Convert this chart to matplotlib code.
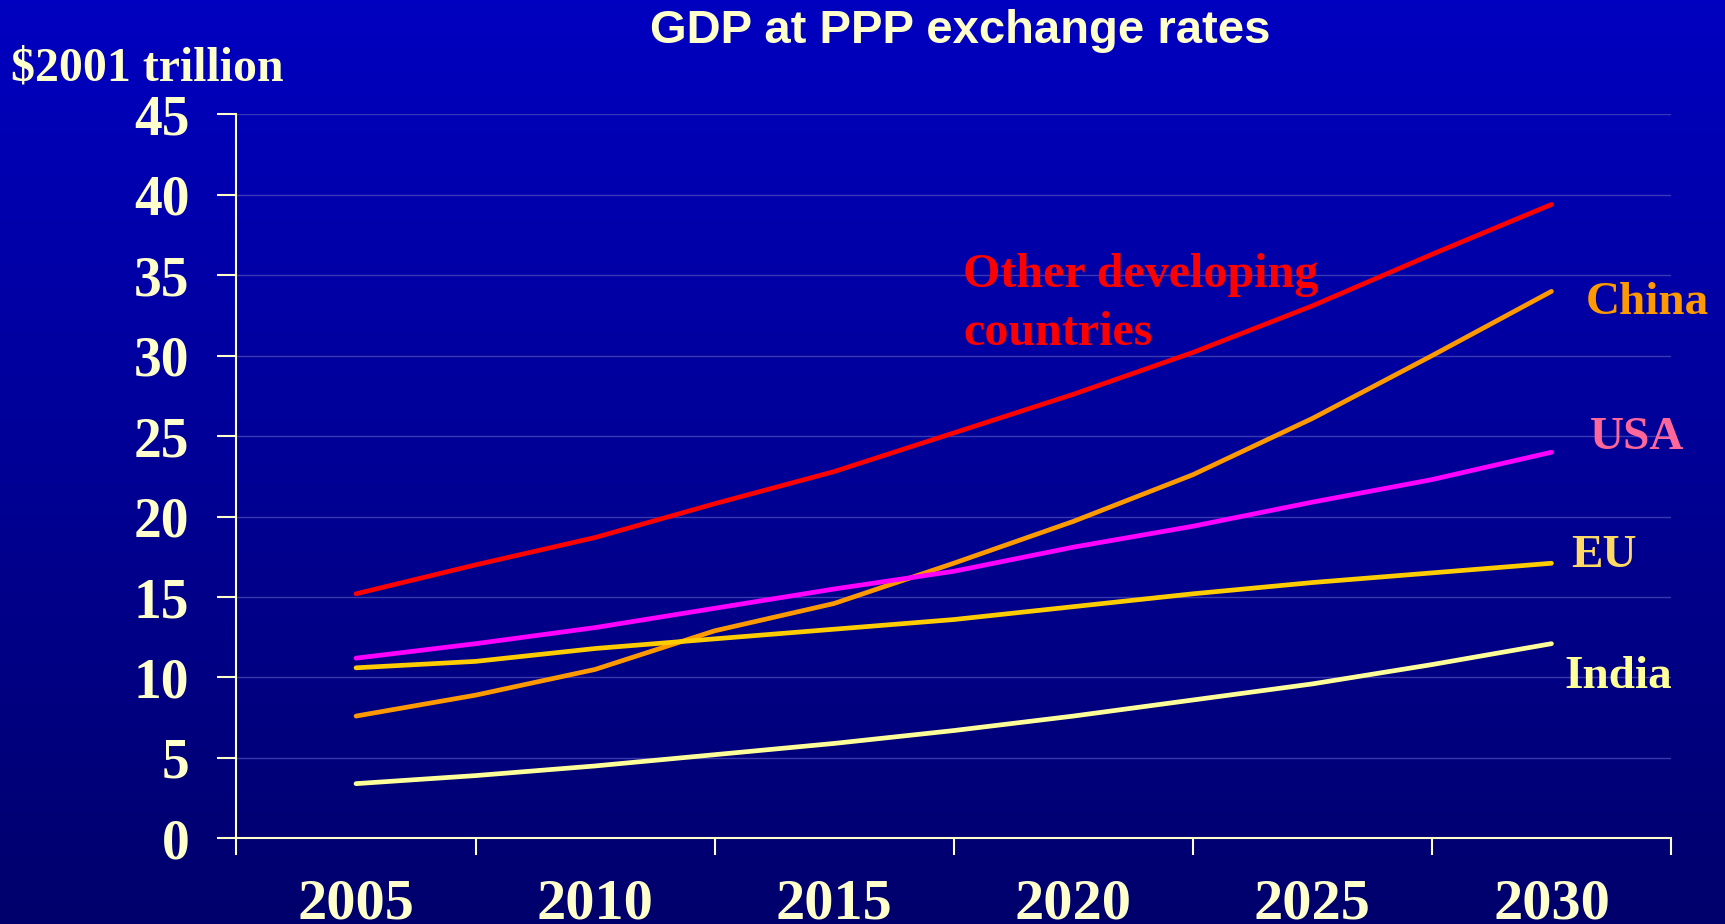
import numpy as np
import matplotlib.pyplot as plt
from matplotlib.ticker import FixedLocator, NullFormatter

# data ($2001 trillion, GDP at PPP)
years = [2005, 2007.5, 2010, 2012.5, 2015, 2017.5, 2020, 2022.5, 2025, 2027.5, 2030]
other_dev = [15.2, 17.0, 18.7, 20.8, 22.8, 25.2, 27.6, 30.2, 33.1, 36.3, 39.4]
china = [7.6, 8.9, 10.5, 12.9, 14.6, 17.1, 19.7, 22.6, 26.1, 30.0, 34.0]
usa = [11.2, 12.1, 13.1, 14.3, 15.5, 16.6, 18.1, 19.4, 20.9, 22.3, 24.0]
eu = [10.6, 11.0, 11.8, 12.4, 13.0, 13.6, 14.4, 15.2, 15.9, 16.5, 17.1]
india = [3.4, 3.9, 4.5, 5.2, 5.9, 6.7, 7.6, 8.6, 9.6, 10.8, 12.1]

year_labels = ["2005", "2010", "2015", "2020", "2025", "2030"]
label_years = [2005, 2010, 2015, 2020, 2025, 2030]
y_ticks = [0, 5, 10, 15, 20, 25, 30, 35, 40, 45]

cream = "#FFFFCC"
serif = ["Liberation Serif", "DejaVu Serif"]

fig = plt.figure(figsize=(17.25, 9.24), dpi=100)

# blue gradient background
bg = fig.add_axes([0, 0, 1, 1], zorder=-10)
grad = np.linspace(0, 1, 256).reshape(-1, 1)
top = np.array([0, 0, 192]) / 255
bottom = np.array([0, 0, 108]) / 255
img = top + (bottom - top) * grad[..., None]
bg.imshow(img, aspect="auto", extent=[0, 1, 0, 1])
bg.axis("off")

ax = fig.add_axes([0.1371, 0.0927, 0.8316, 0.7835])
ax.set_facecolor("none")

series = [
    (other_dev, "#FF0000"),
    (china, "#FF9900"),
    (usa, "#FF00FF"),
    (eu, "#FFCC00"),
    (india, "#FFFF99"),
]
for vals, col in series:
    ax.plot(years, vals, color=col, lw=3.4, solid_capstyle="round", zorder=3)

ax.set_xlim(2002.5, 2032.5)
ax.set_ylim(0, 45)

# category style x axis: ticks at boundaries, labels at centres
ax.xaxis.set_major_locator(FixedLocator([2002.5 + 5 * i for i in range(7)]))
ax.xaxis.set_major_formatter(NullFormatter())
ax.xaxis.set_minor_locator(FixedLocator(label_years))
ax.set_xticklabels(year_labels, minor=True)
ax.tick_params(axis="x", which="major", length=12, width=1.5, color=cream, direction="out")
ax.tick_params(axis="x", which="minor", length=0, pad=29, labelsize=42, labelcolor=cream)

ax.set_yticks(y_ticks)
ax.tick_params(axis="y", length=14, width=1.5, color=cream, pad=20, labelsize=40, labelcolor=cream)

for lab in ax.get_xticklabels(minor=True) + ax.get_yticklabels():
    lab.set_family(serif)
    lab.set_fontweight("bold")

ax.grid(axis="y", color="#4848B8", lw=1.0, alpha=0.8)
ax.set_axisbelow(True)
for s in ["top", "right"]:
    ax.spines[s].set_visible(False)
for s in ["left", "bottom"]:
    ax.spines[s].set_color(cream)
    ax.spines[s].set_linewidth(1.5)

# series labels
lab_kw = dict(family=serif, fontweight="bold", fontsize=34, clip_on=False)
ax.text(2017.7, 33.2, "Other developing\ncountries", color="#FF0000", ha="left", va="center",
        linespacing=1.42, fontsize=34.6, family=serif, fontweight="bold", clip_on=False)
ax.text(2032.0, 33.3, "China", color="#FF9900", ha="center", va="center", **lab_kw)
ax.text(2031.8, 24.9, "USA", color="#FF6699", ha="center", va="center", **lab_kw)
ax.text(2031.1, 17.55, "EU", color="#FFD966", ha="center", va="center", **lab_kw)
ax.text(2031.4, 10.0, "India", color="#FFFF99", ha="center", va="center", **lab_kw)

fig.text(960 / 1725, 1 - 31 / 924, "GDP at PPP exchange rates", color=cream,
         family=["Liberation Sans", "DejaVu Sans"], fontweight="bold", fontsize=34,
         ha="center", va="center")
fig.text(11 / 1725, 1 - 68 / 924, "$2001 trillion", color=cream, family=serif,
         fontweight="bold", fontsize=34.5, ha="left", va="center")

fig.savefig("out.png", dpi=100)
